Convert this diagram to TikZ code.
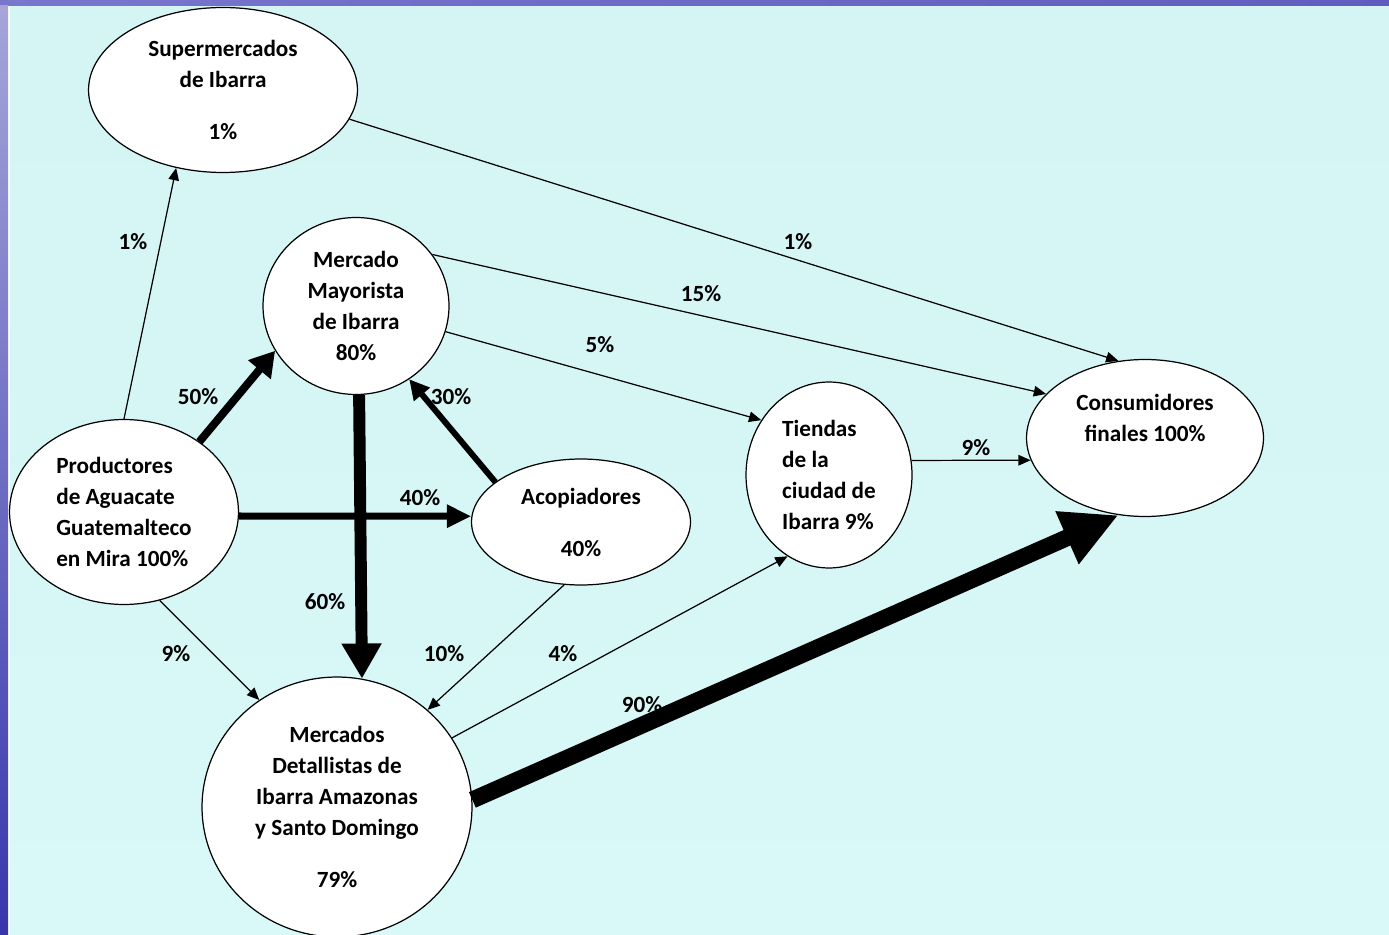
\documentclass[tikz,border=0pt]{standalone}
\usepackage{fontspec}
\setmainfont{Carlito}
\usetikzlibrary{shapes.geometric,arrows.meta}

\begin{document}
\begin{tikzpicture}[x=0.02cm,y=-0.02cm,
	place/.style={ellipse,draw,fill=white,line width=0.7pt,inner sep=0pt,align=center},
	thinflow/.style={line width=0.7pt,-{Triangle[length=7pt,width=6pt]}},
	bigflow/.style n args={3}{line width=#1,-{Triangle[length=#2,width=#3]}},
	every node/.style={font=\bfseries\fontsize{13.2}{17.6}\selectfont}]

% background
\useasboundingbox (0,0) rectangle (1389,935);
\fill[white] (0,0) rectangle (1389,935);
\shade[left color={rgb,255:red,120;green,118;blue,205},right color={rgb,255:red,98;green,92;blue,190}] (0,0) rectangle (1389,6);
\shade[top color={rgb,255:red,165;green,165;blue,218},bottom color={rgb,255:red,55;green,55;blue,172}] (0,6) rectangle (8,935);
\shade[top color={rgb,255:red,212;green,245;blue,244},middle color={rgb,255:red,190;green,243;blue,243},bottom color={rgb,255:red,217;green,248;blue,248}] (10,7) rectangle (1389,935);

% nodes
\node[place,minimum width=5.38cm,minimum height=3.3cm] (super) at (223,90) {Supermercados\\de Ibarra\\[12pt]1\%};
\node[place,minimum width=3.72cm,minimum height=3.54cm] (mayor) at (356,306) {Mercado\\Mayorista\\de Ibarra\\80\%};
\node[place,minimum width=4.58cm,minimum height=3.7cm,align=left] (prod) at (124,512) {Productores\\de Aguacate\\Guatemalteco\\en Mira 100\%};
\node[place,minimum width=4.38cm,minimum height=2.52cm] (acop) at (581,522) {Acopiadores\\[12pt]40\%};
\node[place,minimum width=3.32cm,minimum height=3.72cm,align=left] (tienda) at (829,475) {Tiendas\\de la\\ciudad de\\Ibarra 9\%};
\node[place,minimum width=4.74cm,minimum height=3.14cm] (cons) at (1145,438) {Consumidores\\finales 100\%\\\strut};
\node[place,minimum width=5.4cm,minimum height=5.2cm] (detal) at (337,807) {Mercados\\Detallistas de\\Ibarra Amazonas\\y Santo Domingo\\[12pt]79\%};

% labels
\node (l1) at (133,242) {1\%};
\node (l50) at (198,397) {50\%};
\node (l40) at (420,498) {40\%};
\node (l60) at (325,602) {60\%};
\node (l30) at (451,397) {30\%};
\node (l10) at (444,654) {10\%};
\node (l9a) at (176,654) {9\%};
\node (l4) at (563,654) {4\%};
\node (l90) at (642,705) {90\%};
\node (l5) at (600,345) {5\%};
\node (l15) at (701,294) {15\%};
\node (l1b) at (798,242) {1\%};
\node (l9b) at (976,448) {9\%};

% flows
\draw[thinflow] (prod.90) -- (super.-121.6);
\draw[bigflow={4.5pt}{14pt}{16pt}] (prod.43.5) -- (mayor.-151.4);
\draw[bigflow={4pt}{14pt}{12.5pt}] (prod.-2.5) -- (acop.177.4);
\draw[bigflow={6.8pt}{20pt}{21.5pt}] (mayor.-88.7) -- (detal.79.1);
\draw[bigflow={3.4pt}{11.3pt}{11.3pt}] (acop.155.9) -- (mayor.-54.2);
\draw[thinflow] (acop.-105.9) -- (detal.47.4);
\draw[thinflow] (prod.-68.8) -- (detal.126.2);
\draw[thinflow] (detal.31.6) -- (tienda.-117.4);
\draw[bigflow={9.6pt}{32pt}{30.6pt}] (detal.3) -- (cons.-109.5);
\draw[thinflow] (mayor.-16.2) -- (tienda.141.1);
\draw[thinflow] (mayor.34.4) -- (cons.156.7);
\draw[thinflow] (super.-13.3) -- (cons.109.7);
\draw[thinflow] (tienda.10.2) -- (cons.-169.5);
\end{tikzpicture}
\end{document}
